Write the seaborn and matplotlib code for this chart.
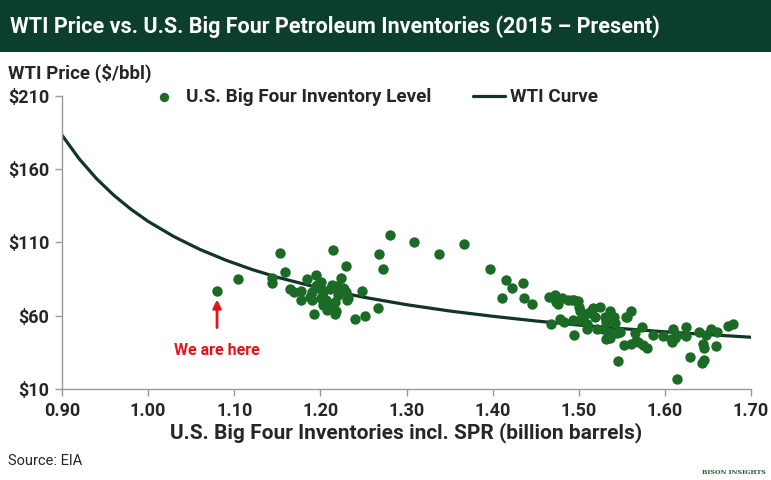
import matplotlib
matplotlib.use("Agg")
import matplotlib.pyplot as plt
from matplotlib.patches import Rectangle
import seaborn as sns
import pandas as pd

# Monthly points: inventory level (billion barrels) vs WTI price ($/bbl)
inventory = [
    1.080, 1.104, 1.144, 1.144, 1.153, 1.159, 1.165, 1.169, 1.178, 1.177,
    1.184, 1.188, 1.190, 1.190, 1.195, 1.196, 1.195, 1.201, 1.201, 1.201,
    1.203, 1.203, 1.203, 1.207, 1.208, 1.209, 1.211, 1.213, 1.215, 1.217,
    1.218, 1.217, 1.219, 1.221, 1.222, 1.222, 1.224, 1.226, 1.228, 1.230,
    1.230, 1.231, 1.232, 1.193, 1.240, 1.252, 1.248, 1.267, 1.268, 1.273,
    1.281, 1.309, 1.338, 1.367, 1.397, 1.416, 1.422, 1.435, 1.411, 1.437,
    1.446,
    1.466, 1.473, 1.474, 1.480, 1.476, 1.488, 1.492, 1.494, 1.499, 1.500,
    1.501, 1.516, 1.525, 1.536, 1.539, 1.561, 1.556, 1.468, 1.478, 1.483,
    1.493, 1.505, 1.509, 1.519, 1.521, 1.530, 1.532, 1.534, 1.542, 1.548,
    1.528, 1.538, 1.532, 1.494, 1.552, 1.545, 1.565, 1.567, 1.561, 1.501,
    1.509, 1.541, 1.544, 1.555, 1.574, 1.575, 1.579, 1.586, 1.598, 1.609,
    1.608, 1.612, 1.614, 1.624, 1.625, 1.629, 1.614, 1.640, 1.644, 1.646,
    1.645, 1.643, 1.654, 1.661, 1.659, 1.673, 1.679, 1.648, 1.607, 1.536,
    1.569, 1.515, 1.511,
]
wti_price = [
    77, 85, 86, 82, 103, 90, 78, 76, 77, 71,
    85, 73, 71, 76, 88, 81, 80, 83, 78, 72,
    76, 70, 67, 71, 64, 67, 78, 81, 105, 69,
    63, 61, 80, 74, 76, 79, 86, 79, 78, 94,
    76, 71, 72, 61, 58, 60, 77, 65, 102, 92,
    115, 110, 102, 109, 92, 84, 79, 82, 72, 72,
    68,
    73, 74, 69, 72, 68, 71, 71, 71, 70, 66,
    63, 65, 66, 63, 59, 63, 59, 54, 58, 56,
    57, 58, 54, 59, 51, 59, 56, 49, 55, 49,
    51, 48, 44, 47, 40, 29, 48, 43, 41, 57,
    51, 59, 48, 59, 52, 40, 38, 47, 46, 51,
    42, 45, 47, 52, 46, 32, 17, 49, 41, 38,
    30, 28, 51, 49, 39, 53, 54, 47, 44, 45,
    42, 64, 62,
]

# WTI curve
curve_inventory = [0.90, 0.92, 0.94, 0.96, 0.98, 1.00, 1.03, 1.06, 1.09, 1.12,
                   1.15, 1.20, 1.25, 1.30, 1.35, 1.40, 1.45, 1.50, 1.55, 1.60,
                   1.65, 1.70]
curve_price = [183.1, 166.9, 153.5, 142.2, 132.6, 124.3, 113.9, 105.2, 97.9, 91.6,
               86.2, 78.7, 72.6, 67.5, 63.2, 59.6, 56.4, 53.6, 51.2, 49.0,
               47.1, 45.3]

x_ticks = [0.90, 1.00, 1.10, 1.20, 1.30, 1.40, 1.50, 1.60, 1.70]
y_ticks = [10, 60, 110, 160, 210]

points = pd.DataFrame({"Inventory": inventory, "WTI": wti_price})
curve = pd.DataFrame({"Inventory": curve_inventory, "WTI": curve_price})

dark_green = "#0b3f2c"
dot_green = "#1b6a26"
line_green = "#123528"
red = "#e5131b"

sns.set_style("ticks")
plt.rcParams["font.family"] = ["Roboto", "DejaVu Sans"]

fig = plt.figure(figsize=(7.71, 4.8), dpi=100)
W, H = 771, 480

# title banner
fig.patches.append(Rectangle((0, 1 - 52 / H), 1, 52 / H, transform=fig.transFigure,
                             facecolor=dark_green, edgecolor="none", zorder=0))
fig.text(10 / W, 1 - 27 / H, "WTI Price vs. U.S. Big Four Petroleum Inventories (2015 \u2013 Present)",
         color="white", fontsize=15.5, fontweight="bold", ha="left", va="center")

ax = fig.add_axes([62 / W, 1 - 389 / H, 689 / W, (389 - 95.7) / H])

sns.scatterplot(data=points, x="Inventory", y="WTI", ax=ax, color=dot_green,
                s=56, linewidth=0, label="U.S. Big Four Inventory Level", zorder=3)
sns.lineplot(data=curve, x="Inventory", y="WTI", ax=ax, color=line_green,
             linewidth=2.3, label="WTI Curve", zorder=2)

ax.set_xlim(0.90, 1.70)
ax.set_ylim(10, 210)
ax.set_xticks(x_ticks)
ax.set_yticks(y_ticks)
ax.set_xticklabels([f"{t:.2f}" for t in x_ticks])
ax.set_yticklabels([f"\\${t}" for t in y_ticks])
for lbl in ax.get_xticklabels() + ax.get_yticklabels():
    lbl.set_fontweight("bold")
    lbl.set_fontsize(13)
ax.tick_params(axis="both", direction="out", length=5, width=1, color="#9a9a9a", pad=4)
sns.despine(ax=ax)
for side in ["left", "bottom"]:
    ax.spines[side].set_color("#9a9a9a")
    ax.spines[side].set_linewidth(1)

ax.set_xlabel("U.S. Big Four Inventories incl. SPR (billion barrels)",
              fontsize=15, fontweight="bold", labelpad=2)
ax.set_ylabel("")
fig.text(8 / W, 1 - 73 / H, "WTI Price (\\$/bbl)", fontsize=13.5, fontweight="bold",
         ha="left", va="center")

ax.legend(loc="center left", bbox_to_anchor=(0.10, 0.995), ncol=2, frameon=False,
          prop={"weight": "bold", "size": 13.6}, columnspacing=2.2,
          handlelength=1.7, handletextpad=0.3, markerscale=0.9)

# "We are here" marker
ax.annotate("We are here", xy=(inventory[0], wti_price[0] - 6),
            xytext=(inventory[0], 36), ha="center", va="center",
            color=red, fontsize=11.5, fontweight="bold",
            arrowprops=dict(arrowstyle="-|>", color=red, lw=2,
                            mutation_scale=12, shrinkA=9, shrinkB=0))

fig.text(8 / W, 1 - 461 / H, "Source: EIA", fontsize=10.5, ha="left", va="center")
fig.text(766 / W, 1 - 472 / H, "BISON INSIGHTS", fontsize=4.6, fontweight="bold",
         family="DejaVu Serif", color="#245c33", ha="right", va="center")

fig.savefig("out.png", dpi=100)
